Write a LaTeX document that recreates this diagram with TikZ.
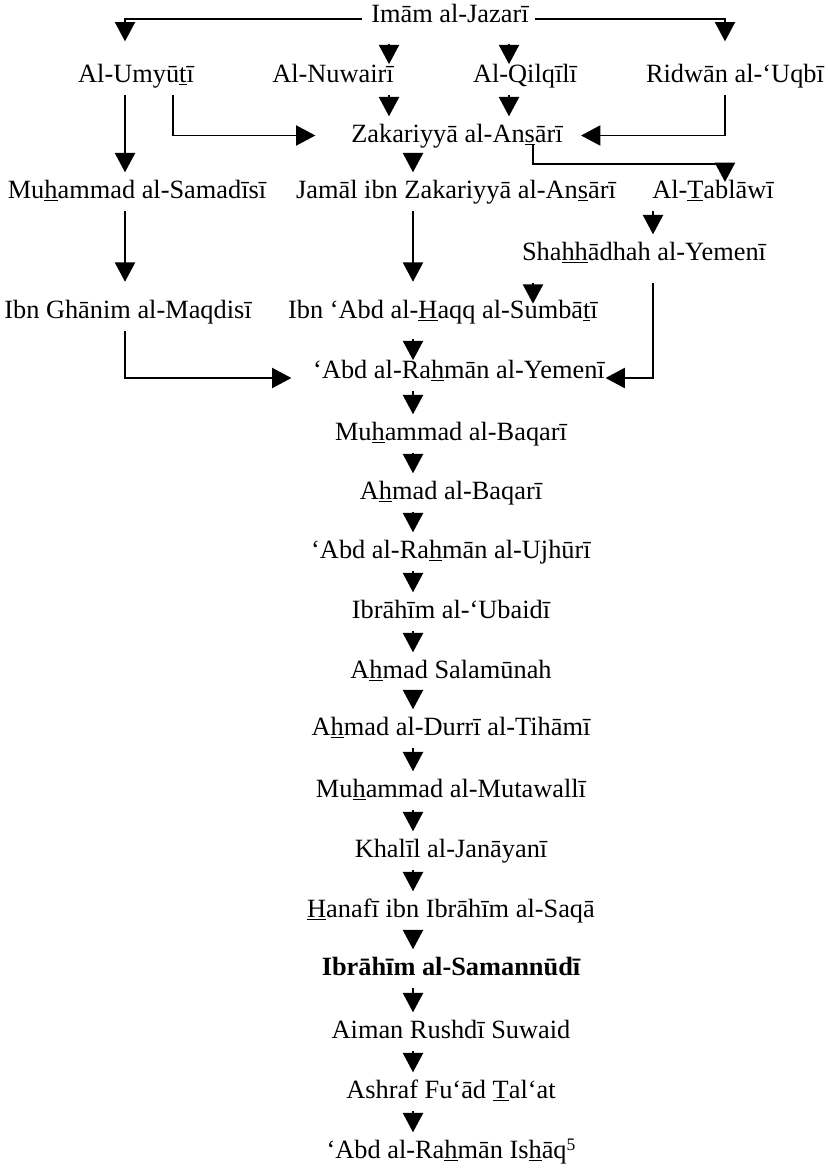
\documentclass[tikz,border=0pt]{standalone}
\usepackage{fontspec}
\setmainfont{Liberation Serif}
\usepackage{tikz}
\usetikzlibrary{arrows.meta}
\newcommand{\udl}[1]{\underline{#1}}

\begin{document}
\begin{tikzpicture}[
    x=0.02cm, y=-0.02cm,
    person/.style={inner sep=0pt, anchor=base,
                   text height=14.2pt, text depth=6.8pt,
                   font=\fontsize{15}{18}\selectfont},
    >={Triangle[width=11.5pt,length=11pt]},
    line width=0.9pt
]
\useasboundingbox (0,0) rectangle (828,1174);

%% --- Top of the chain ---
\node[person] (jazari)   at (450, 22) {Imām al-Jazarī};
\node[person] (umyuti)   at (136, 82) {Al-Umyū\udl{t}ī};
\node[person] (nuwairi)  at (333, 82) {Al-Nuwairī};
\node[person] (qilqili)  at (525, 82) {Al-Qilqīlī};
\node[person] (ridwan)   at (735, 82) {Ridwān al-‘Uqbī};
\node[person] (zak)      at (457,142) {Zakariyyā al-An\udl{s}ārī};

%% --- Branches ---
\node[person] (samadisi) at (137,198) {Mu\udl{h}ammad al-Samadīsī};
\node[person] (jamal)    at (456,198) {Jamāl ibn Zakariyyā al-An\udl{s}ārī};
\node[person] (tablawi)  at (713,198) {Al-\udl{T}ablāwī};
\node[person] (shah)     at (644,260) {Sha\udl{hh}ādhah al-Yemenī};
\node[person] (ghanim)   at (128,318) {Ibn Ghānim al-Maqdisī};
\node[person] (sumbati)  at (443,318) {Ibn ‘Abd al-\udl{H}aqq al-Sumbā\udl{t}ī};
\node[person] (yemeni)   at (459,378) {‘Abd al-Ra\udl{h}mān al-Yemenī};

%% --- Single line ---
\node[person] (baqari)    at (451, 440) {Mu\udl{h}ammad al-Baqarī};
\node[person] (ahmadb)    at (451, 499) {A\udl{h}mad al-Baqarī};
\node[person] (ujhuri)    at (451, 558) {‘Abd al-Ra\udl{h}mān al-Ujhūrī};
\node[person] (ubaidi)    at (451, 618) {Ibrāhīm al-‘Ubaidī};
\node[person] (salamunah) at (451, 678) {A\udl{h}mad Salamūnah};
\node[person] (tihami)    at (451, 735) {A\udl{h}mad al-Durrī al-Tihāmī};
\node[person] (mutawalli) at (451, 797) {Mu\udl{h}ammad al-Mutawallī};
\node[person] (janayani)  at (451, 857) {Khalīl al-Janāyanī};
\node[person] (saqa)      at (451, 917) {\udl{H}anafī ibn Ibrāhīm al-Saqā};
\node[person] (samannudi) at (451, 975) {\bfseries Ibrāhīm al-Samannūdī};
\node[person] (suwaid)    at (451,1038) {Aiman Rushdī Suwaid};
\node[person] (talat)     at (451,1098) {Ashraf Fu`ād \udl{T}al‘at};
\node[person] (ishaq)     at (451,1158) {‘Abd al-Ra\udl{h}mān Is\udl{h}āq{\fontsize{10}{12}\selectfont\raisebox{0.45em}{5}}};

%% --- Arrows from the top ---
\draw[->, shorten <=5pt, shorten >=8.5pt] ([yshift=-2pt]jazari.west) -| (umyuti.north -| 125,0);
\draw[->, shorten <=3pt, shorten >=8.5pt] ([yshift=-2pt]jazari.east) -| (ridwan.north -| 725,0);
\draw[->, shorten <=5pt, shorten >=-4.5pt] (jazari.south -| 389,0) -- (nuwairi.north -| 389,0);
\draw[->, shorten <=5pt, shorten >=-4.5pt] (jazari.south -| 509,0) -- (qilqili.north -| 509,0);
\draw[->] (nuwairi.south -| 389,0) -- (zak.north -| 389,0);
\draw[->] (qilqili.south -| 509,0) -- (zak.north -| 509,0);
\draw[->, shorten >=20pt] (umyuti.south -| 173,0) |- (zak.west);
\draw[->, shorten >=10pt] (ridwan.south -| 725,0) |- (zak.east);

%% --- Arrows between branches ---
\draw[->] (umyuti.south -| 125,0) -- (samadisi.north -| 125,0);
\draw[->] (zak.south -| 413,0) -- (jamal.north -| 413,0);
\draw[->, shorten <=-5.5pt, shorten >=-5.5pt] (zak.south -| 533,0) -- ++(0,9) -| (tablawi.north -| 725,0);
\draw[->] (tablawi.south -| 653,0) -- (shah.north -| 653,0);
\draw[->, shorten >=6pt] (samadisi.south -| 125,0) -- (ghanim.north -| 125,0);
\draw[->, shorten >=6pt] (jamal.south -| 413,0) -- (sumbati.north -| 413,0);
\draw[->, shorten <=6pt, shorten >=-6.5pt] (shah.south -| 533,0) -- (sumbati.north -| 533,0);
\draw[->, shorten >=12pt] (ghanim.south -| 125,0) |- (yemeni.base west);
\draw[->, shorten <=4.5pt, shorten >=-4.5pt] (sumbati.south -| 413,0) -- (yemeni.north -| 413,0);
\draw[->, shorten <=6pt] (shah.south -| 653,0) |- (yemeni.base east);

%% --- Arrows down the single line ---
\draw[->] (yemeni.south -| 413,0)    -- (baqari.north -| 413,0);
\draw[->] (baqari.south -| 413,0)    -- (ahmadb.north -| 413,0);
\draw[->] (ahmadb.south -| 413,0)    -- (ujhuri.north -| 413,0);
\draw[->] (ujhuri.south -| 413,0)    -- (ubaidi.north -| 413,0);
\draw[->] (ubaidi.south -| 413,0)    -- (salamunah.north -| 413,0);
\draw[->] (salamunah.south -| 413,0) -- (tihami.north -| 413,0);
\draw[->] (tihami.south -| 413,0)    -- (mutawalli.north -| 413,0);
\draw[->] (mutawalli.south -| 413,0) -- (janayani.north -| 413,0);
\draw[->] (janayani.south -| 413,0)  -- (saqa.north -| 413,0);
\draw[->] (saqa.south -| 413,0)      -- (samannudi.north -| 413,0);
\draw[->] (samannudi.south -| 413,0) -- (suwaid.north -| 413,0);
\draw[->] (suwaid.south -| 413,0)    -- (talat.north -| 413,0);
\draw[->] (talat.south -| 413,0)     -- (ishaq.north -| 413,0);

\end{tikzpicture}
\end{document}
